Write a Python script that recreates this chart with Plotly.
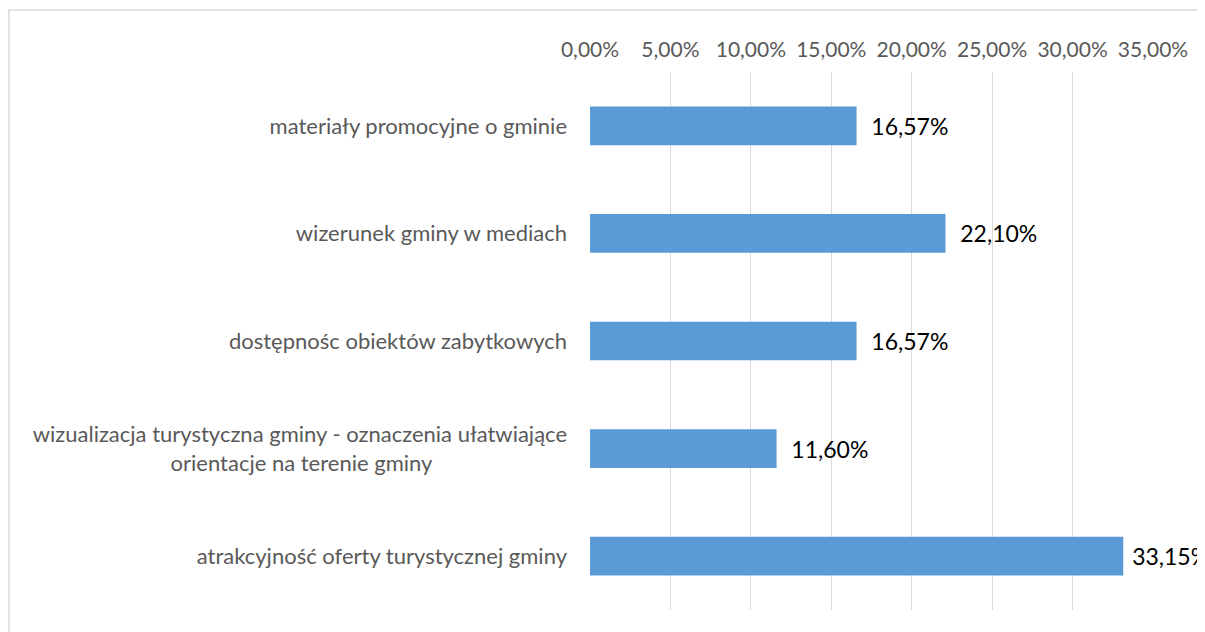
import plotly.graph_objects as go

categories = [
    "materiały promocyjne o gminie",
    "wizerunek gminy w mediach",
    "dostępnośc obiektów zabytkowych",
    "wizualizacja turystyczna gminy - oznaczenia ułatwiające<br>orientacje na terenie gminy" + "\u00a0" * 24,
    "atrakcyjność oferty turystycznej gminy",
]
values = [16.57, 22.10, 16.57, 11.60, 33.15]
tick_vals = [0, 5, 10, 15, 20, 25, 30, 35]
tick_text = ["0,00%", "5,00%", "10,00%", "15,00%", "20,00%", "25,00%", "30,00%", "35,00%"]

# label spacing (the last label sits closer to its bar, as in the reference)
label_pad = ["\u00a0\u00a0", "\u00a0\u00a0", "\u00a0\u00a0", "\u00a0\u00a0", "\u00a0"]
labels = [p + f"{v:.2f}%".replace(".", ",") for p, v in zip(label_pad, values)]

FONT = "Lato"
W, H = 1197, 624
L, R, T, B = 582, 52, 64, 22
pw, ph = W - L - R, H - T - B

fig = go.Figure(go.Bar(
    x=values,
    y=categories,
    orientation="h",
    marker=dict(color="#5B9BD5", line=dict(width=0)),
    text=labels,
    textposition="outside",
    textfont=dict(family=FONT, size=23, color="#000000"),
    cliponaxis=False,
    width=0.36,
))

fig.update_layout(
    width=W,
    height=H,
    margin=dict(l=L, r=R, t=T, b=B),
    paper_bgcolor="white",
    plot_bgcolor="white",
    showlegend=False,
    font=dict(family=FONT, size=22, color="#595959"),
    xaxis=dict(
        side="top",
        range=[0, 35],
        tickvals=tick_vals,
        ticktext=tick_text,
        showgrid=True,
        gridcolor="#D9D9D9",
        gridwidth=1.3,
        zeroline=False,
        showline=False,
        ticks="",
        ticklabelstandoff=10,
        tickfont=dict(family=FONT, size=21, color="#595959"),
    ),
    yaxis=dict(
        autorange="reversed",
        showgrid=False,
        zeroline=False,
        showline=False,
        ticks="",
        ticklabelstandoff=22,
        tickfont=dict(family=FONT, size=22, color="#595959"),
    ),
    shapes=[dict(
        type="rect", xref="paper", yref="paper",
        x0=(1 - L) / pw, x1=1.2,
        y0=-0.2, y1=1 + (T - 2) / ph,
        line=dict(color="#D9D9D9", width=1.5),
        fillcolor="rgba(0,0,0,0)",
        layer="below",
    )],
)

fig.write_html("out.html")
